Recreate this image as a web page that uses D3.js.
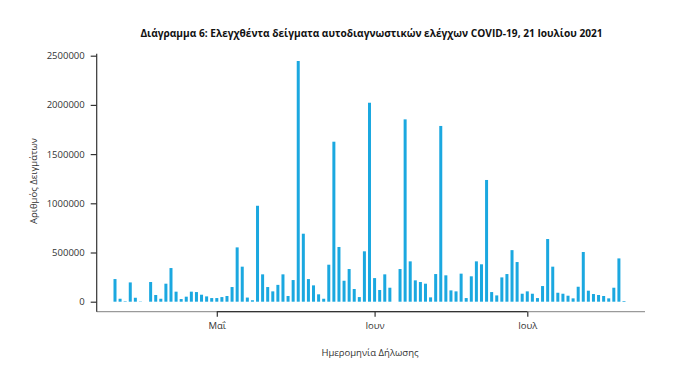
<!DOCTYPE html>
<html>
<head>
<meta charset="utf-8">
<script src="https://cdn.jsdelivr.net/npm/d3@7"></script>
<style>
    body { margin: 0; background: #fff; }
    text { font-family: "Open Sans", "Noto Sans", sans-serif; }
</style>
</head>
<body>
<svg id="chart" width="688" height="375"></svg>
<script>
// data: daily samples, starting 11 April 2021
const startDate = new Date(2021, 3, 11);
const sampleCounts = [
    230000, 30000, 5000, 196000, 40000, 3000, 0, 200000, 68000, 30000,
    183000, 342000, 102000, 27000, 51000, 102000, 98000, 71000, 54000, 37000,
    37000, 47000, 58000, 149000, 552000, 356000, 42000, 15000, 975000, 278000,
    149000, 105000, 171000, 278000, 58000, 220000, 2446000, 691000, 230000, 166000,
    75000, 30000, 376000, 1626000, 556000, 213000, 332000, 129000, 47000, 512000,
    2022000, 240000, 119000, 278000, 142000, 0, 332000, 1853000, 410000, 217000,
    200000, 183000, 44000, 281000, 1786000, 268000, 115000, 105000, 285000, 37000,
    258000, 410000, 380000, 1237000, 98000, 64000, 247000, 281000, 524000, 403000,
    81000, 105000, 81000, 37000, 159000, 637000, 356000, 91000, 81000, 61000,
    34000, 152000, 505000, 112000, 78000, 68000, 58000, 34000, 142000, 440000,
    7000
];
const yTicks = [0, 500000, 1000000, 1500000, 2000000, 2500000];
const monthTicks = [new Date(2021, 4, 1), new Date(2021, 5, 1), new Date(2021, 6, 1)];
const monthLabels = ['Μαΐ', 'Ιουν', 'Ιουλ'];

const titleText = 'Διάγραμμα 6: Ελεγχθέντα δείγματα αυτοδιαγνωστικών ελέγχων COVID-19, 21 Ιουλίου 2021';
const xTitle = 'Ημερομηνία Δήλωσης';
const yTitle = 'Αριθμός Δειγμάτων';

const data = sampleCounts.map((v, i) => ({ date: d3.timeDay.offset(startDate, i), value: v }));

const svg = d3.select('#chart');
const BAR_COLOR = '#1ba8e0';
const AXIS_Y = 311.7;
const LEFT = 96.7;

const scaleX = d3.scaleTime()
    .domain(d3.extent(data, d => d.date))
    .range([115, 624]);

const scaleY = d3.scaleLinear()
    .domain([0, 2500000])
    .range([301.7, 55.7]);

// bars
svg.append('g')
    .selectAll('rect')
    .data(data)
    .join('rect')
    .attr('x', d => scaleX(d.date) - 1.5)
    .attr('width', 3)
    .attr('y', d => scaleY(d.value))
    .attr('height', d => scaleY(0) - scaleY(d.value))
    .attr('fill', BAR_COLOR);

// bottom frame line (light) across the plot
svg.append('line')
    .attr('x1', LEFT).attr('x2', 645)
    .attr('y1', AXIS_Y).attr('y2', AXIS_Y)
    .attr('stroke', '#9a9a9a')
    .attr('stroke-width', 1.2);

// x axis
let xAxis = d3.axisBottom(scaleX)
    .tickValues(monthTicks)
    .tickFormat((d, i) => monthLabels[i])
    .tickSize(5)
    .tickPadding(6)
    .tickSizeOuter(0);
let gx = svg.append('g')
    .attr('transform', `translate(0,${AXIS_Y})`)
    .call(xAxis);
gx.select('.domain')
    .attr('d', `M${scaleX(monthTicks[0])},0H${scaleX(monthTicks[2])}`)
    .attr('stroke', '#333')
    .attr('stroke-width', 1.2);
gx.selectAll('.tick line').attr('stroke', '#333').attr('stroke-width', 1.2);
gx.selectAll('.tick text')
    .attr('font-size', 9.5)
    .attr('fill', '#333');

// y axis
let yAxis = d3.axisLeft(scaleY)
    .tickValues(yTicks)
    .tickFormat(d3.format('d'))
    .tickSize(6)
    .tickPadding(6)
    .tickSizeOuter(0);
let gy = svg.append('g')
    .attr('transform', `translate(${LEFT},0)`)
    .call(yAxis);
gy.select('.domain')
    .attr('d', `M0,${scaleY(2500000) - 2}V${AXIS_Y}`)
    .attr('stroke', '#333')
    .attr('stroke-width', 1.2);
gy.selectAll('.tick line').attr('stroke', '#333').attr('stroke-width', 1.2);
gy.selectAll('.tick text')
    .attr('font-size', 9.5)
    .attr('fill', '#333');

// titles
let title = svg.append('text')
    .attr('x', 371.5)
    .attr('y', 37)
    .attr('text-anchor', 'middle')
    .attr('font-weight', 'bold')
    .attr('font-size', 11)
    .attr('fill', '#111')
    .text(titleText);
// fit title width to the reference
let tw = title.node().getComputedTextLength();
title.attr('font-size', 11 * 463 / tw);

svg.append('text')
    .attr('x', 370)
    .attr('y', 356)
    .attr('text-anchor', 'middle')
    .attr('font-size', 9.5)
    .attr('fill', '#333')
    .text(xTitle);

svg.append('text')
    .attr('transform', 'translate(36.5,181) rotate(-90)')
    .attr('text-anchor', 'middle')
    .attr('font-size', 9.5)
    .attr('fill', '#333')
    .text(yTitle);
</script>
</body>
</html>
